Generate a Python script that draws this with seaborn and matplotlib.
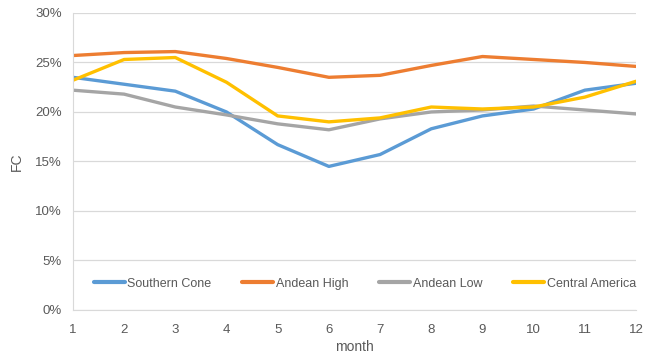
import matplotlib
matplotlib.use('Agg')
import matplotlib.pyplot as plt
import numpy as np
import pandas as pd
import seaborn as sns
from matplotlib import ticker

months = list(range(1, 13))
southern_cone = [23.5, 22.8, 22.1, 20.0, 16.7, 14.5, 15.7, 18.3, 19.6, 20.3, 22.2, 22.9]
andean_high = [25.7, 26.0, 26.1, 25.4, 24.5, 23.5, 23.7, 24.7, 25.6, 25.3, 25.0, 24.6]
andean_low = [22.2, 21.8, 20.5, 19.7, 18.8, 18.2, 19.3, 20.0, 20.2, 20.6, 20.2, 19.8]
central_america = [23.2, 25.3, 25.5, 23.0, 19.6, 19.0, 19.4, 20.5, 20.3, 20.5, 21.5, 23.1]

series = {
    'Southern Cone': southern_cone,
    'Andean High': andean_high,
    'Andean Low': andean_low,
    'Central America': central_america,
}
colors = {
    'Southern Cone': '#5B9BD5',
    'Andean High': '#ED7D31',
    'Andean Low': '#A5A5A5',
    'Central America': '#FFC000',
}

frames = []
for name, vals in series.items():
    frames.append(pd.DataFrame({'month': months, 'FC': np.array(vals) / 100, 'region': name}))
df = pd.concat(frames, ignore_index=True)

sns.set_style('white')
plt.rcParams['font.family'] = ['Liberation Sans', 'DejaVu Sans']
text_col = '#595959'

fig = plt.figure(figsize=(6.51, 3.6), dpi=100)
ax = fig.add_axes([0.112, 0.139, 0.865, 0.825])

sns.lineplot(data=df, x='month', y='FC', hue='region', palette=colors,
             linewidth=2.4, ax=ax, legend=True)

ax.set_xlim(1, 12)
ax.set_ylim(0, 0.30)
ax.set_xticks(months)
ax.set_yticks(np.arange(0, 0.31, 0.05))
ax.yaxis.set_major_formatter(ticker.PercentFormatter(xmax=1, decimals=0))
ax.grid(axis='y', color='#D9D9D9', linewidth=0.9)
ax.set_axisbelow(True)

for side in ['top', 'right']:
    ax.spines[side].set_visible(False)
ax.spines['left'].set_color('#D9D9D9')
ax.spines['bottom'].set_color('#D9D9D9')
ax.tick_params(axis='x', colors=text_col, labelsize=9.5, length=4, width=0.8,
               color='#D9D9D9', direction='out', pad=6)
ax.tick_params(axis='y', colors=text_col, labelsize=9.5, length=0, pad=8)

ax.set_xlabel('month', color=text_col, fontsize=10, labelpad=3)
ax.set_ylabel('FC', color=text_col, fontsize=10, labelpad=8)

leg = ax.legend(loc='lower left', bbox_to_anchor=(0.028, 0.052), ncol=4, frameon=False,
                fontsize=9, handlelength=2.5, handletextpad=0.2, columnspacing=2.45,
                borderaxespad=0)
for t in leg.get_texts():
    t.set_color(text_col)
for line in leg.get_lines():
    line.set_linewidth(3)

fig.savefig('out.png', dpi=100)
